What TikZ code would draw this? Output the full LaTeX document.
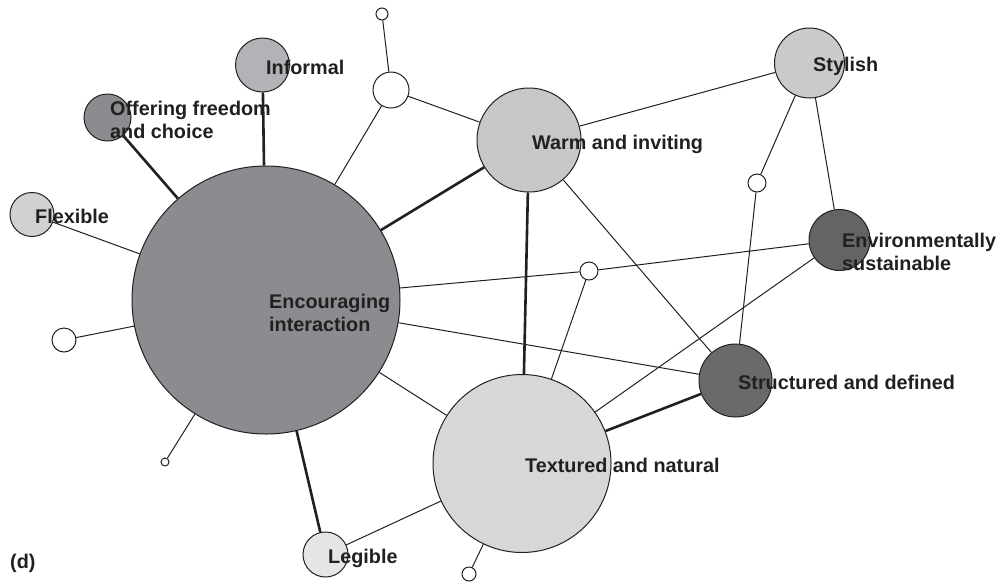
\documentclass[tikz,border=0pt]{standalone}
\usepackage{fontspec}
\setmainfont{Liberation Sans}
\begin{document}
\begin{tikzpicture}[x=1pt,y=-1pt,
  blob/.style={circle,draw=ink,line width=1pt,inner sep=0pt,minimum size=#1},
  dot/.style={blob=#1,fill=white},
  thinedge/.style={draw=ink,line width=1pt},
  thickedge/.style={draw=ink,line width=2.6pt},
  lbl/.style={anchor=base west,inner sep=0pt,text=ink,align=left,
    font=\fontsize{19.8}{22.5}\selectfont\bfseries}]
\definecolor{ink}{HTML}{231F20}
\definecolor{cEI}{HTML}{8B8C8F}
\definecolor{cInf}{HTML}{B2B3B6}
\definecolor{cFlex}{HTML}{D0D1D3}
\definecolor{cWarm}{HTML}{C6C7C9}
\definecolor{cSty}{HTML}{C9CACC}
\definecolor{cEnv}{HTML}{636466}
\definecolor{cStr}{HTML}{6A6A6C}
\definecolor{cTex}{HTML}{D6D7D9}
\definecolor{cLeg}{HTML}{E4E5E6}
\useasboundingbox (0,0) rectangle (1006,582);
% circles
\node[blob=268pt,fill=cEI] (EI) at (266,300) {};
\node[blob=54pt,fill=cInf] (Inf) at (262.5,65) {};
\node[blob=47pt,fill=cEI] (Off) at (107.5,117.5) {};
\node[blob=44pt,fill=cFlex] (Flex) at (32,214.5) {};
\node[blob=104pt,fill=cWarm] (Warm) at (529,140) {};
\node[blob=70pt,fill=cSty] (Sty) at (809.5,63) {};
\node[blob=61pt,fill=cEnv] (Env) at (839.5,240) {};
\node[blob=73pt,fill=cStr] (Str) at (735.5,380.5) {};
\node[blob=178pt,fill=cTex] (Tex) at (522,463.5) {};
\node[blob=45pt,fill=cLeg] (Leg) at (325.5,554.5) {};
\node[dot=12pt] (s1) at (382,14) {};
\node[dot=36pt] (s2) at (391,90) {};
\node[dot=18pt] (s3) at (757,183) {};
\node[dot=18pt] (s4) at (589,271) {};
\node[dot=24pt] (s5) at (64,340) {};
\node[dot=8pt] (s6) at (165,462) {};
\node[dot=14pt] (s7) at (469,574) {};
% edges
\draw[thickedge] (EI) -- (Inf);
\draw[thickedge] (EI) -- (Off);
\draw[thinedge] (EI) -- (Flex);
\draw[thinedge] (EI) -- (s2);
\draw[thinedge] (s2) -- (s1);
\draw[thinedge] (s2) -- (Warm);
\draw[thickedge] (EI) -- (Warm);
\draw[thinedge] (EI) -- (s4);
\draw[thinedge] (s4) -- (Env);
\draw[thinedge] (s4) -- (Tex);
\draw[thinedge] (EI) -- (Str);
\draw[thinedge] (EI) -- (Tex);
\draw[thickedge] (EI) -- (Leg);
\draw[thinedge] (EI) -- (s5);
\draw[thinedge] (EI) -- (s6);
\draw[thinedge] (Warm) -- (Sty);
\draw[thickedge] (Warm) -- (Tex);
\draw[thinedge] (Warm) -- (Str);
\draw[thinedge] (Sty) -- (s3);
\draw[thinedge] (s3) -- (Str);
\draw[thinedge] (Sty) -- (Env);
\draw[thinedge] (Env) -- (Tex);
\draw[thickedge] (Str) -- (Tex);
\draw[thinedge] (Tex) -- (Leg);
\draw[thinedge] (Tex) -- (s7);
% labels
\node[lbl] (tInf) at (266,74) {Informal};
\node[lbl] (tOff) at (110,138) {Offering freedom\\and choice};
\node[lbl] (tFlex) at (35,223) {Flexible};
\node[lbl] (tEI) at (269,331) {Encouraging\\interaction};
\node[lbl] (tWarm) at (532,149) {Warm and inviting};
\node[lbl] (tSty) at (813,71) {Stylish};
\node[lbl] (tEnv) at (842,270) {Environmentally\\sustainable};
\node[lbl] (tStr) at (738,389) {Structured and defined};
\node[lbl] (tTex) at (525,472) {Textured and natural};
\node[lbl] (tLeg) at (328,563) {Legible};
\node[lbl] (tD) at (10,568) {(d)};
\end{tikzpicture}
\end{document}
